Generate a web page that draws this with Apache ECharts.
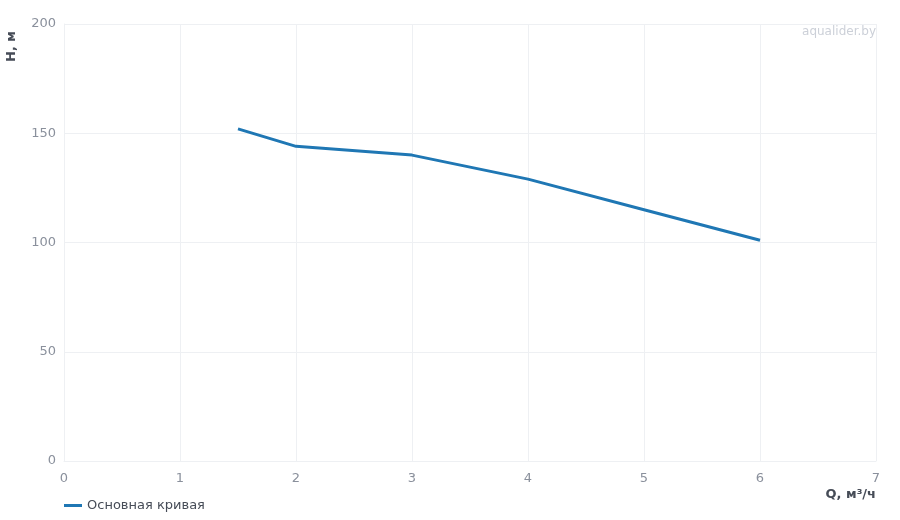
<!DOCTYPE html>
<html>
<head>
<meta charset="utf-8">
<script src="https://cdn.jsdelivr.net/npm/echarts@6/dist/echarts.min.js"></script>
<style>
html, body { margin: 0; padding: 0; background: #fff; }
#main { width: 900px; height: 520px; }
</style>
</head>
<body>
<div id="main"></div>
<script>
// расход, м3/ч
var flowQ = [1.5, 2, 3, 4, 5, 6];
// напор, м
var headH = [152, 144, 140, 129, 115, 101];
var seriesName = 'Основная кривая';

var curveData = [];
for (var i = 0; i < flowQ.length; i++) {
	curveData.push([flowQ[i], headH[i]]);
}

var gridColor = '#eef0f3';
var labelColor = '#8a909c';

var option = {
	backgroundColor: '#fff',
	textStyle: { fontFamily: 'DejaVu Sans' },
	grid: { left: 64, right: 24, top: 24, bottom: 59 },
	legend: {
		data: [seriesName],
		icon: 'rect',
		left: 59,
		bottom: 3,
		itemWidth: 18,
		itemHeight: 3,
		itemGap: 6,
		textStyle: { color: '#464c57', fontSize: 13 }
	},
	xAxis: {
		type: 'value',
		min: 0,
		max: 7,
		interval: 1,
		axisLine: { show: true, lineStyle: { color: gridColor } },
		axisTick: { show: false },
		axisLabel: { color: labelColor, fontSize: 13, margin: 11 },
		splitLine: { show: true, lineStyle: { color: gridColor, width: 1 } }
	},
	yAxis: {
		type: 'value',
		min: 0,
		max: 200,
		interval: 50,
		axisLine: { show: true, lineStyle: { color: gridColor } },
		axisTick: { show: false },
		axisLabel: { color: labelColor, fontSize: 13, margin: 8 },
		splitLine: { show: true, lineStyle: { color: gridColor, width: 1 } }
	},
	graphic: [
		{
			type: 'text',
			x: 12, y: 62,
			rotation: Math.PI / 2,
			style: {
				text: 'H, м',
				fill: '#464c57',
				font: 'bold 13px "DejaVu Sans"',
				align: 'left',
				verticalAlign: 'middle'
			}
		},
		{
			type: 'text',
			x: 876, y: 495,
			style: {
				text: 'Q, м³/ч',
				fill: '#464c57',
				font: 'bold 13px "DejaVu Sans"',
				align: 'right',
				verticalAlign: 'middle'
			}
		},
		{
			type: 'text',
			x: 876, y: 32,
			style: {
				text: 'aqualider.by',
				fill: '#ccd0d8',
				font: '12px "DejaVu Sans"',
				align: 'right',
				verticalAlign: 'middle'
			}
		}
	],
	series: [{
		name: seriesName,
		type: 'line',
		data: curveData,
		symbol: 'none',
		smooth: false,
		lineStyle: { color: '#1f77b4', width: 3 },
		itemStyle: { color: '#1f77b4' }
	}]
};

var myChart = echarts.init(document.getElementById('main'));
myChart.setOption(option);
</script>
</body>
</html>
